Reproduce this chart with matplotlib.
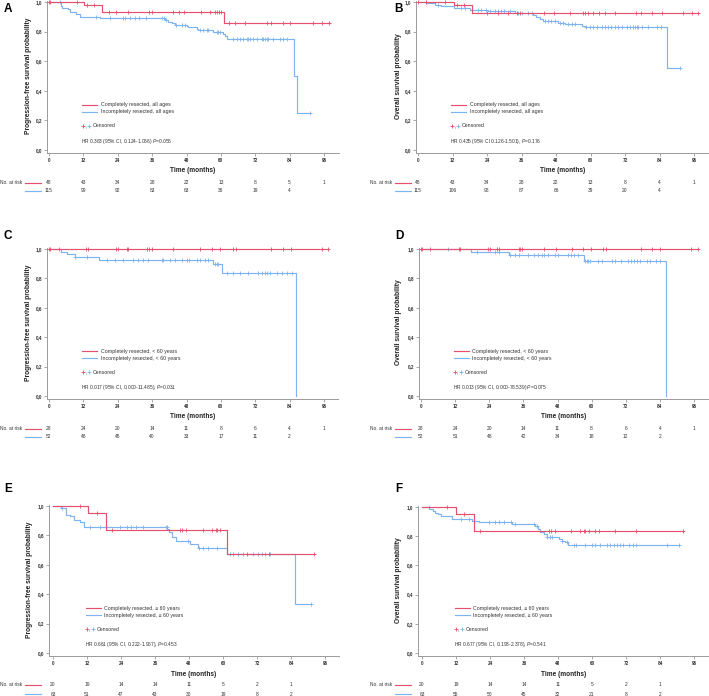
import numpy as np
import matplotlib
matplotlib.use('Agg')
import matplotlib.pyplot as plt
from matplotlib.transforms import blended_transform_factory
from matplotlib.lines import Line2D

plt.rcParams['font.family'] = ['Liberation Sans', 'DejaVu Sans']
plt.rcParams['mathtext.fontset'] = 'custom'
plt.rcParams['mathtext.rm'] = 'Liberation Sans'
plt.rcParams['mathtext.it'] = 'Liberation Sans:italic'

W, H, DPI = 709, 696, 100
RED = '#E5506E'
BLUE = '#7DB3EE'
AXC = '#9A9A9A'
TXC = '#333333'

month_ticks = [0, 12, 24, 36, 48, 60, 72, 84, 96]
surv_ticks = [0.0, 0.2, 0.4, 0.6, 0.8, 1.0]

# ---------------- Panel A: PFS, all ages ----------------
a_red_t = [0, 12.1, 18.6, 61.0, 98.0]
a_red_s = [1.0, 0.977, 0.930, 0.858, 0.858]
a_red_c = [0, 0.5, 9.6, 13.3, 15.6, 21.0, 23.5, 27.5, 34.8, 35.8, 43.3, 45.3, 47.2, 53.0, 56.2,
           57.9, 58.5, 59.3, 59.9, 62.9, 64.9, 68.4, 76.0, 77.4, 81.6, 84.3, 92.3, 95.4, 97.9]
a_blue_t = [0, 4.1, 4.7, 6.6, 7.5, 9.3, 10.7, 17.7, 40.4, 41.6, 42.8, 43.9, 48.0, 48.6, 51.5, 52.1,
            57.3, 60.8, 61.4, 62.0, 85.5, 86.4, 91.1]
a_blue_s = [1.0, 0.975, 0.96, 0.95, 0.935, 0.92, 0.90, 0.89, 0.878, 0.867, 0.856, 0.844, 0.837, 0.83,
            0.82, 0.81, 0.80, 0.786, 0.77, 0.75, 0.50, 0.25, 0.25]
a_blue_c = [3.7, 16.5, 21.2, 25.9, 26.7, 28.2, 29.9, 31.5, 34.0, 39.6, 40.1, 40.7, 44.5, 46.3, 47.4,
            52.7, 53.8, 55.0, 55.6, 58.5, 59.1, 59.6, 64.3, 65.5, 66.6, 67.8, 69.0, 69.6, 70.1, 71.3,
            72.5, 74.2, 74.8, 75.4, 76.0, 76.5, 78.3, 80.6, 81.8, 83.2, 91.1]
a_risk_red = [48, 43, 34, 28, 22, 13, 8, 5, 1]
a_risk_blue = [115, 99, 92, 83, 63, 36, 19, 4]

# ---------------- Panel B: OS, all ages ----------------
b_red_t = [0, 12.4, 18.9, 97.5]
b_red_s = [1.0, 0.977, 0.928, 0.928]
b_red_c = [0, 2.9, 9.5, 13.4, 15.9, 24.1, 27.9, 31.3, 34.6, 35.6, 43.9, 47.4, 52.8, 57.5, 58.1, 59.2,
           61.0, 63.0, 65.0, 68.5, 75.8, 77.6, 81.3, 84.8, 92.3, 95.2, 97.5]
b_blue_t = [0, 2.9, 5.8, 7.9, 12.4, 18.0, 24.4, 33.7, 40.0, 41.2, 42.4, 43.5, 48.8, 51.1, 56.9, 58.0,
            86.5, 91.0]
b_blue_s = [1.0, 0.99, 0.98, 0.97, 0.958, 0.945, 0.937, 0.925, 0.912, 0.896, 0.883, 0.874, 0.86, 0.85,
            0.837, 0.828, 0.551, 0.551]
b_blue_c = [2.7, 7.0, 14.9, 16.5, 20.7, 21.8, 23.8, 25.0, 26.7, 27.9, 29.0, 30.0, 31.9, 34.8, 36.0,
            38.3, 39.5, 44.1, 45.3, 46.4, 47.6, 49.3, 50.5, 52.2, 53.4, 54.6, 58.6, 59.8, 61.0, 62.1,
            63.9, 65.0, 66.2, 67.3, 68.5, 69.7, 70.8, 72.6, 73.7, 74.9, 75.5, 76.0, 76.6, 77.8, 80.1,
            83.0, 84.5, 91.1]
b_risk_red = [48, 43, 34, 28, 22, 13, 8, 4, 1]
b_risk_blue = [115, 106, 98, 87, 66, 39, 20, 4]

# ---------------- Panel C: PFS, < 60 years ----------------
c_red_t = [0, 97.5]
c_red_s = [1.0, 1.0]
c_red_c = [0, 0.3, 3.6, 12.9, 13.5, 23.3, 24.2, 27.1, 27.7, 34.3, 34.9, 35.8, 43.4, 52.7, 56.8, 59.7,
           64.3, 65.3, 77.4, 81.6, 84.4, 95.2, 97.5]
c_blue_t = [0, 4.2, 6.2, 9.1, 17.5, 57.4, 60.3, 86.3]
c_blue_s = [1.0, 0.98, 0.966, 0.948, 0.925, 0.898, 0.84, 0.0]
c_blue_c = [9.1, 13.1, 20.1, 23.0, 25.9, 29.4, 31.2, 32.9, 34.7, 39.3, 39.9, 42.2, 44.0, 46.3, 48.1,
            49.0, 51.5, 52.7, 54.5, 55.6, 57.9, 58.5, 59.1, 62.0, 64.3, 66.7, 69.6, 73.1, 74.2, 75.4,
            76.0, 77.1, 79.5, 81.2, 83.0, 84.7]
c_risk_red = [28, 24, 20, 14, 11, 8, 6, 4, 1]
c_risk_blue = [52, 48, 45, 40, 33, 17, 11, 2]

# ---------------- Panel D: OS, < 60 years ----------------
d_red_t = [0, 97.4]
d_red_s = [1.0, 1.0]
d_red_c = [0, 0.4, 3.3, 13.2, 13.8, 23.7, 24.3, 26.9, 27.5, 34.3, 34.8, 35.4, 43.4, 47.5, 53.0, 56.8,
           59.8, 64.1, 64.9, 77.3, 81.4, 84.0, 95.1, 97.4]
d_blue_t = [0, 17.7, 30.8, 57.4, 86.0]
d_blue_s = [1.0, 0.98, 0.96, 0.92, 0.0]
d_blue_c = [9.5, 19.6, 26.1, 27.6, 31.3, 32.9, 34.3, 37.8, 39.9, 41.0, 42.4, 43.4, 44.6, 47.1, 48.3,
            51.8, 52.7, 53.9, 55.1, 57.6, 58.2, 58.8, 59.4, 62.3, 63.5, 67.0, 68.2, 70.3, 72.8, 74.0,
            75.0, 75.8, 76.9, 79.3, 80.4, 82.8, 84.0]
d_risk_red = [28, 24, 20, 14, 11, 8, 6, 4, 1]
d_risk_blue = [52, 51, 48, 42, 34, 18, 12, 2]

# ---------------- Panel E: PFS, >= 60 years ----------------
e_red_t = [0, 12.2, 18.7, 61.3, 92.1]
e_red_s = [1.0, 0.95, 0.835, 0.672, 0.672]
e_red_c = [9.4, 15.5, 20.8, 44.8, 45.4, 46.9, 53.0, 56.0, 57.5, 58.0, 59.1, 68.3, 76.3, 92.1]
e_blue_t = [0, 2.8, 4.7, 6.1, 7.3, 9.6, 11.0, 40.4, 41.1, 42.0, 43.4, 48.4, 51.2, 61.3, 85.3, 91.1]
e_blue_s = [1.0, 0.984, 0.94, 0.93, 0.905, 0.894, 0.855, 0.844, 0.82, 0.79, 0.762, 0.742, 0.713,
            0.672, 0.336, 0.336]
e_blue_c = [3.2, 13.1, 16.7, 23.7, 26.1, 27.5, 29.3, 31.9, 39.8, 40.1, 47.8, 51.6, 53.0, 54.8, 58.0,
            62.4, 63.6, 65.4, 67.1, 70.7, 72.4, 73.6, 74.8, 76.5, 91.0]
e_risk_red = [20, 19, 14, 14, 11, 5, 2, 1]
e_risk_blue = [63, 51, 47, 43, 30, 19, 8, 2]

# ---------------- Panel F: OS, >= 60 years ----------------
f_red_t = [0, 12.0, 18.2, 92.2]
f_red_s = [1.0, 0.952, 0.836, 0.836]
f_red_c = [8.8, 14.9, 20.3, 44.7, 45.5, 46.8, 52.6, 55.8, 57.3, 57.6, 58.8, 60.9, 62.6, 68.2, 75.6, 92.2]
f_blue_t = [0, 2.6, 3.8, 4.5, 5.6, 6.8, 10.6, 17.6, 20.0, 31.7, 39.9, 41.1, 41.7, 42.9, 44.1, 48.2,
            49.4, 50.5, 51.7, 90.8]
f_blue_s = [1.0, 0.985, 0.975, 0.96, 0.95, 0.935, 0.917, 0.905, 0.9, 0.882, 0.87, 0.85, 0.83, 0.813,
            0.795, 0.778, 0.77, 0.76, 0.742, 0.742]
f_blue_c = [2.4, 13.9, 16.5, 23.5, 25.9, 27.3, 28.8, 31.5, 32.9, 39.4, 40.5, 44.1, 45.0, 45.8, 49.4,
            51.1, 53.5, 54.3, 57.6, 59.9, 61.1, 62.9, 65.2, 66.4, 67.9, 68.7, 69.9, 70.8, 73.1, 74.3,
            75.6, 86.4, 90.8]
f_risk_red = [20, 19, 14, 14, 11, 5, 2, 1]
f_risk_blue = [63, 55, 50, 45, 32, 21, 8, 2]

PFS = 'Progression-free survival probability'
OS = 'Overall survival probability'

panels = [
    dict(letter='A', ylab=PFS, rt=a_red_t, rs=a_red_s, rc=a_red_c, bt=a_blue_t, bs=a_blue_s, bc=a_blue_c,
         rl='Completely resected, all ages', bl='Incompletely resected, all ages',
         hr='HR 0.363 (95% CI, 0.124-1.066) $\\it{P}$=0.056', rr=a_risk_red, rb=a_risk_blue,
         geom=(49, 324, 47, 339, 2, 150), let=(4, 3), risk=(183, 191), nar=0, tl=170, yl=29),
    dict(letter='B', ylab=OS, rt=b_red_t, rs=b_red_s, rc=b_red_c, bt=b_blue_t, bs=b_blue_s, bc=b_blue_c,
         rl='Completely resected, all ages', bl='Incompletely resected, all ages',
         hr='HR 0.435 (95% CI 0.126-1.501), $\\it{P}$=0.176', rr=b_risk_red, rb=b_risk_blue,
         geom=(418, 694, 416, 709, 2, 150), let=(394, 3), risk=(183, 191), nar=370, tl=170, yl=398),
    dict(letter='C', ylab=PFS, rt=c_red_t, rs=c_red_s, rc=c_red_c, bt=c_blue_t, bs=c_blue_s, bc=c_blue_c,
         rl='Completely resected, < 60 years', bl='Incompletely resected, < 60 years',
         hr='HR 0.017 (95% CI, 0.000-11.485), $\\it{P}$=0.031', rr=c_risk_red, rb=c_risk_blue,
         geom=(49, 324, 47, 338, 249, 396), let=(4, 230), risk=(429, 437), nar=0, tl=417, yl=29),
    dict(letter='D', ylab=OS, rt=d_red_t, rs=d_red_s, rc=d_red_c, bt=d_blue_t, bs=d_blue_s, bc=d_blue_c,
         rl='Completely resected, < 60 years', bl='Incompletely resected, < 60 years',
         hr='HR 0.013 (95% CI, 0.000-78.539) $\\it{P}$=0.075', rr=d_risk_red, rb=d_risk_blue,
         geom=(421, 694, 419, 709, 249, 396), let=(395, 230), risk=(429, 437), nar=370, tl=417, yl=398),
    dict(letter='E', ylab=PFS, rt=e_red_t, rs=e_red_s, rc=e_red_c, bt=e_blue_t, bs=e_blue_s, bc=e_blue_c,
         rl='Completely resected, \u2265 60 years', bl='Incompletely resected, \u2265 60 years',
         hr='HR 0.661 (95% CI, 0.222-1.967), $\\it{P}$=0.453', rr=e_risk_red, rb=e_risk_blue,
         geom=(53, 325, 49, 339, 506, 653), let=(4, 483), risk=(685, 694), nar=0, tl=674, yl=30),
    dict(letter='F', ylab=OS, rt=f_red_t, rs=f_red_s, rc=f_red_c, bt=f_blue_t, bs=f_blue_s, bc=f_blue_c,
         rl='Completely resected, \u2265 60 years', bl='Incompletely resected, \u2265 60 years',
         hr='HR 0.677 (95% CI, 0.193-2.378), $\\it{P}$=0.541', rr=f_risk_red, rb=f_risk_blue,
         geom=(422, 694, 418, 709, 507, 653), let=(395, 483), risk=(685, 694), nar=370, tl=674, yl=398),
]

fig = plt.figure(figsize=(W / DPI, H / DPI), dpi=DPI)


def fx(px):
    return px / W


def fy(py):
    return 1 - py / H


def surv_at(t, s, c):
    t = np.asarray(t)
    s = np.asarray(s)
    idx = np.searchsorted(t, np.asarray(c), side='right') - 1
    return s[np.clip(idx, 0, len(s) - 1)]


YMIN, YMAX = -0.02, 1.01
for p in panels:
    x0, x96, left, right, y1, y0 = p['geom']
    ppm = (x96 - x0) / 96.0
    ppu = (y0 - y1)
    xlim = ((left - x0) / ppm, (right - x0) / ppm)
    bot_px = y0 - YMIN * ppu
    top_px = y1 - (YMAX - 1.0) * ppu
    ax = fig.add_axes([fx(left), fy(bot_px), fx(right) - fx(left), (bot_px - top_px) / H])
    ax.set_xlim(*xlim)
    ax.set_ylim(YMIN, YMAX)
    ax.patch.set_alpha(0)
    for side in ('top', 'right'):
        ax.spines[side].set_visible(False)
    for side in ('left', 'bottom'):
        ax.spines[side].set_color(AXC)
        ax.spines[side].set_linewidth(0.7)
    ax.set_xticks(month_ticks)
    ax.set_xticklabels([str(m) for m in month_ticks])
    ax.set_yticks(surv_ticks)
    ax.set_yticklabels([f'{v:.1f}'.replace('.', ',') for v in surv_ticks])
    ax.tick_params(axis='both', length=2, width=0.6, color=AXC, labelsize=3.3, labelcolor=TXC, pad=1.5)
    for lab in ax.get_xticklabels() + ax.get_yticklabels():
        lab.set_fontweight('bold')

    # curves
    ax.step(p['bt'], p['bs'], where='post', color=BLUE, lw=0.85, clip_on=False, zorder=3)
    ax.step(p['rt'], p['rs'], where='post', color=RED, lw=0.85, clip_on=False, zorder=4)
    ax.plot(p['bc'], surv_at(p['bt'], p['bs'], p['bc']), ls='none', marker='+', ms=2.6, mew=0.6,
            color=BLUE, clip_on=False, zorder=3)
    ax.plot(p['rc'], surv_at(p['rt'], p['rs'], p['rc']), ls='none', marker='+', ms=2.6, mew=0.6,
            color=RED, clip_on=False, zorder=4)

    # legend (drawn in axes data space)
    lx0, lx1, ltx = 11.5, 16.8, 18.0
    for yy, col, lab in ((0.305, RED, p['rl']), (0.258, BLUE, p['bl'])):
        ax.add_line(Line2D([lx0, lx1], [yy, yy], color=col, lw=0.85, clip_on=False))
        ax.text(ltx, yy, lab, fontsize=3.75, color=TXC, va='center', ha='left')
    ax.plot([11.9], [0.163], ls='none', marker='+', ms=2.3, mew=0.6, color=RED, clip_on=False)
    ax.text(12.6, 0.158, ',', fontsize=3.6, color=TXC, va='center', ha='left')
    ax.plot([14.0], [0.163], ls='none', marker='+', ms=2.3, mew=0.6, color=BLUE, clip_on=False)
    ax.text(15.3, 0.163, 'Censored', fontsize=3.75, color=TXC, va='center', ha='left')
    ax.text(11.3, 0.06, p['hr'], fontsize=3.5, color=TXC, va='center', ha='left')

    # axis titles
    fig.text(fx((left + right) / 2), fy(p['tl']), 'Time (months)', fontsize=4.7, fontweight='bold',
             color='#222222', ha='center', va='center')
    fig.text(fx(p['yl']), fy((y1 + y0) / 2), p['ylab'], fontsize=4.75, fontweight='bold',
             color='#222222', ha='center', va='center', rotation=90)
    fig.text(fx(p['let'][0]), fy(p['let'][1]), p['letter'], fontsize=8.5, fontweight='bold',
             color='black', ha='left', va='top')

    # number at risk
    tr = blended_transform_factory(ax.transData, fig.transFigure)
    ry, by = p['risk']
    for i, n in enumerate(p['rr']):
        ax.text(month_ticks[i], fy(ry), str(n), transform=tr, fontsize=3.5, color=TXC,
                ha='center', va='center', clip_on=False)
    for i, n in enumerate(p['rb']):
        ax.text(month_ticks[i], fy(by), str(n), transform=tr, fontsize=3.5, color=TXC,
                ha='center', va='center', clip_on=False)
    nar = p['nar']
    fig.text(fx(nar), fy(ry), 'No. at risk', fontsize=3.5, color=TXC, ha='left', va='center')
    fig.add_artist(Line2D([fx(nar + 25), fx(nar + 41)], [fy(ry), fy(ry)], color=RED, lw=0.85,
                          transform=fig.transFigure))
    fig.add_artist(Line2D([fx(nar + 25), fx(nar + 41)], [fy(by), fy(by)], color=BLUE, lw=0.85,
                          transform=fig.transFigure))

fig.savefig('out.png', dpi=DPI, facecolor='white')
